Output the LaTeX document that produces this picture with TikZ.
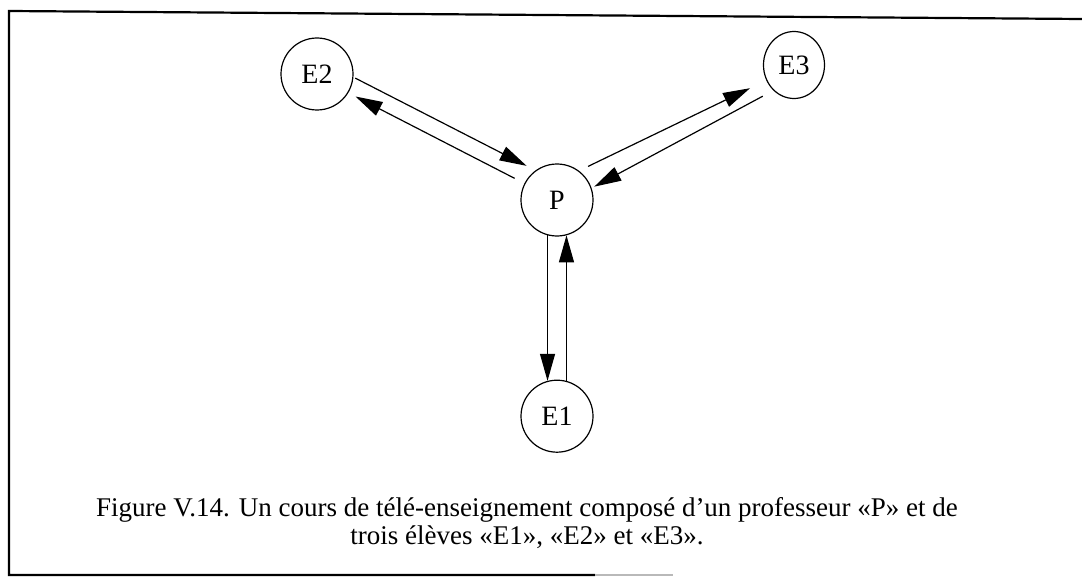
\documentclass[tikz,border=0pt]{standalone}
\usepackage{fontspec}
\setmainfont{Liberation Serif}
\usepackage{tikz}
\usetikzlibrary{arrows.meta,positioning,shapes.geometric}

\begin{document}
\begin{tikzpicture}[
x=1pt, y=-1pt,
person/.style={draw, circle, line width=1.2pt, minimum size=72pt, inner sep=0pt, font=\fontsize{28}{30}\selectfont},
arrow/.style={-{Triangle[length=27pt,width=15pt]}, line width=1.2pt},
caption/.style={align=center, font=\fontsize{27}{28}\selectfont}
]
\useasboundingbox (0,0) rectangle (1082,583);
% frame
\draw[line width=2.2pt] (1082,19) -- (9,11) -- (9,575) -- (595,575);
\draw[line width=1.5pt, gray!55] (595,575) -- (673,575);
% nodes
\node[person] (prof) at (557,200) {P};
\node[person] (eleve2) at (317,74) {E2};
\node[person, ellipse, minimum width=61pt, minimum height=67pt] (eleve3) at (794,65) {E3};
\node[person, below=143pt of prof] (eleve1) {E1};
% connectors
\draw[arrow, shorten <=2pt, shorten >=10pt] (eleve2.-5) -- (prof.126);
\draw[arrow, shorten <=11pt, shorten >=8pt] (prof.153) -- (eleve2.-31);
\draw[arrow, shorten <=10pt, shorten >=18pt] (prof.53) -- (eleve3.209);
\draw[arrow, shorten <=12pt, shorten >=3pt] (eleve3.231) -- (prof.19);
\draw[arrow] (prof.255) -- (eleve1.105);
\draw[arrow] (eleve1.75) -- (prof.285);
% caption
\node[caption] (legende) at (527,523) {Figure V.14. Un cours de télé-enseignement composé d’un professeur «P» et de\\trois élèves «E1», «E2» et «E3».};
\end{tikzpicture}
\end{document}
